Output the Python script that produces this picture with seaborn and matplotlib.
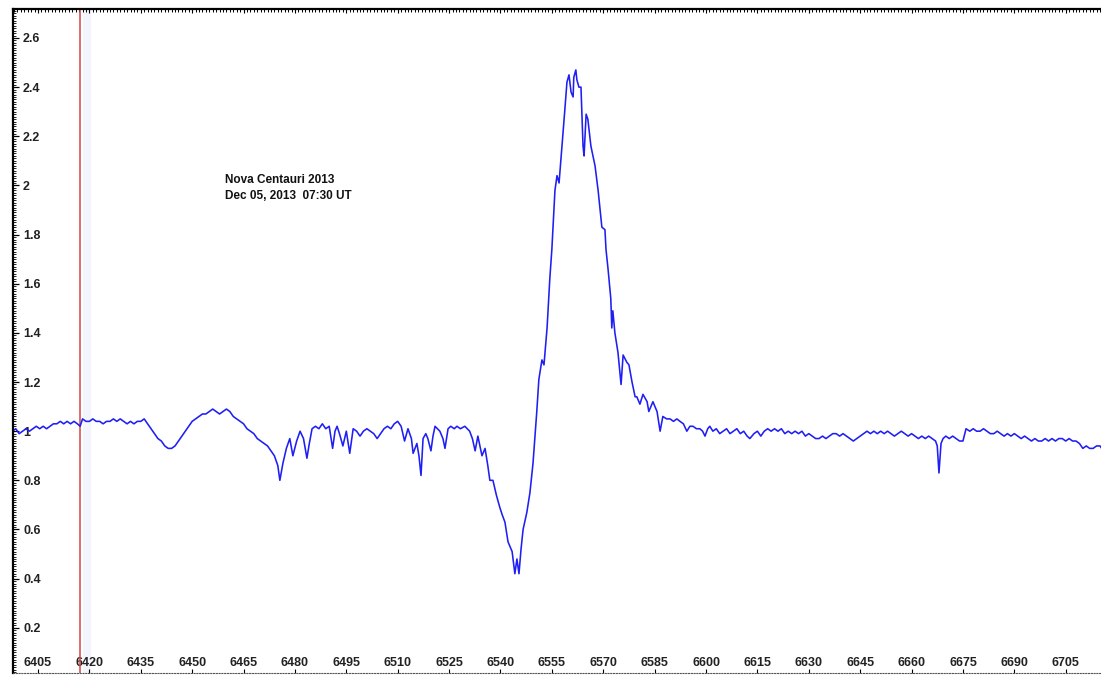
import numpy as np
import pandas as pd
import matplotlib
matplotlib.use("Agg")
import matplotlib.pyplot as plt
import seaborn as sns
from matplotlib.ticker import MultipleLocator, FuncFormatter

# Spectrum, in pieces (wavelength in Angstrom, relative flux)
wl_blue = [6397.5, 6398.5, 6399.5, 6400.5, 6401.5, 6402.5, 6403.5, 6404.5, 6405.5, 6406.5,
           6407.5, 6408.5, 6409.5, 6410.5, 6411.5, 6412.5, 6413.5, 6414.5, 6415.5, 6416.5,
           6417.3, 6418, 6419, 6420, 6421, 6422, 6423, 6424, 6425, 6426,
           6427, 6428, 6429, 6430, 6431, 6432, 6433, 6434, 6435, 6436,
           6437, 6438, 6439, 6440, 6441, 6442, 6443, 6444, 6445, 6446,
           6447, 6448, 6449, 6450, 6451, 6452, 6453, 6454, 6455, 6456,
           6457, 6458, 6459, 6460, 6461, 6462, 6463, 6464, 6465, 6466,
           6467, 6468, 6469, 6470, 6471, 6472, 6473, 6474, 6475, 6475.6]
flux_blue = [1.00, 1.01, 0.99, 1.00, 1.01, 1.00, 1.01, 1.02, 1.01, 1.02,
             1.01, 1.02, 1.03, 1.03, 1.04, 1.03, 1.04, 1.03, 1.04, 1.03,
             1.02, 1.05, 1.04, 1.04, 1.05, 1.04, 1.04, 1.03, 1.04, 1.04,
             1.05, 1.04, 1.05, 1.04, 1.03, 1.04, 1.03, 1.04, 1.04, 1.05,
             1.03, 1.01, 0.99, 0.97, 0.96, 0.94, 0.93, 0.93, 0.94, 0.96,
             0.98, 1.00, 1.02, 1.04, 1.05, 1.06, 1.07, 1.07, 1.08, 1.09,
             1.08, 1.07, 1.08, 1.09, 1.08, 1.06, 1.05, 1.04, 1.03, 1.01,
             1.00, 0.99, 0.97, 0.96, 0.95, 0.94, 0.92, 0.90, 0.86, 0.80]

wl_band = [6476.5, 6477.5, 6478.5, 6479.4, 6480.5, 6481.5, 6482.5, 6483.5, 6484.2, 6485,
           6486, 6487, 6488, 6489, 6490, 6491, 6491.7, 6492.3, 6493, 6494,
           6495, 6496, 6497, 6498, 6499, 6500, 6501, 6502, 6503, 6504,
           6505, 6506, 6507, 6508, 6509, 6510, 6511, 6512, 6513, 6514,
           6514.5, 6515.6, 6516.2, 6516.8, 6517.4, 6518.2, 6518.8, 6519.7, 6520.3, 6520.9,
           6521.6, 6522.3, 6523.2, 6523.8, 6524.7, 6525.5, 6526.5, 6527.3, 6528.3, 6529.6,
           6530.3, 6531, 6531.8, 6532.6, 6533.4, 6534, 6534.6, 6535.5, 6536.3, 6536.9]
flux_band = [0.87, 0.93, 0.97, 0.90, 0.96, 1.00, 0.97, 0.89, 0.95, 1.01,
             1.02, 1.01, 1.03, 1.01, 1.02, 0.93, 1.00, 1.02, 0.99, 0.94,
             1.00, 0.91, 1.01, 1.00, 0.98, 1.00, 1.01, 1.00, 0.99, 0.97,
             0.99, 1.01, 1.02, 1.01, 1.03, 1.04, 1.02, 0.96, 1.01, 0.97,
             0.91, 0.95, 0.90, 0.82, 0.97, 0.99, 0.97, 0.92, 0.98, 1.02,
             1.01, 1.00, 0.97, 0.93, 1.01, 1.02, 1.01, 1.02, 1.01, 1.02,
             1.01, 1.00, 0.97, 0.92, 0.98, 0.94, 0.90, 0.93, 0.86, 0.80]

wl_halpha = [6537.8, 6538.8, 6539.8, 6540.5, 6541.3, 6542.2, 6543.4, 6544.2, 6544.8, 6545.4,
             6546, 6546.6, 6547.7, 6548.6, 6549.5, 6550.6, 6551.2, 6552.1, 6552.7, 6553.6,
             6554.4, 6555, 6555.9, 6556.5, 6557.1, 6557.9, 6558.8, 6559.4, 6560, 6560.6,
             6561.2, 6561.4, 6562, 6562.3, 6562.9, 6563.5, 6564.1, 6564.4, 6565, 6565.5,
             6566.4, 6567.6, 6568.5, 6569.6, 6570.5, 6570.8, 6571.4, 6572.2, 6572.5, 6572.8,
             6573.4, 6574.3, 6575.2, 6575.8, 6576.9, 6577.5, 6578.4, 6579.3, 6579.8, 6580.7,
             6581.6, 6582.8, 6583.3, 6584.5, 6585.7, 6586.6, 6587.4, 6588.5, 6589.5, 6590.5,
             6591.5, 6592.4, 6593.4, 6594.4, 6595.3, 6596.2, 6597.2, 6598.2, 6599, 6599.7]
flux_halpha = [0.80, 0.74, 0.69, 0.66, 0.63, 0.55, 0.51, 0.42, 0.48, 0.42,
               0.52, 0.60, 0.67, 0.75, 0.87, 1.08, 1.21, 1.29, 1.27, 1.42,
               1.62, 1.74, 1.98, 2.04, 2.01, 2.15, 2.31, 2.42, 2.45, 2.38,
               2.36, 2.44, 2.47, 2.43, 2.40, 2.40, 2.16, 2.12, 2.29, 2.27,
               2.16, 2.08, 1.98, 1.83, 1.82, 1.74, 1.66, 1.54, 1.42, 1.49,
               1.40, 1.32, 1.19, 1.31, 1.28, 1.27, 1.20, 1.14, 1.14, 1.11,
               1.15, 1.12, 1.08, 1.12, 1.08, 1.00, 1.06, 1.05, 1.05, 1.04,
               1.05, 1.04, 1.03, 1.00, 1.02, 1.02, 1.01, 1.01, 1.00, 0.98]

wl_red = [6600.5, 6601.1, 6602, 6603, 6604, 6605, 6606, 6607, 6608, 6609,
          6610, 6611, 6612, 6612.8, 6614, 6615, 6616, 6617, 6618, 6619,
          6620, 6621, 6622, 6623, 6624, 6625, 6626, 6627, 6628, 6629,
          6630, 6631, 6632, 6633, 6634, 6635, 6636, 6637, 6638, 6639,
          6640, 6641, 6642, 6643, 6644, 6645, 6646, 6647, 6648, 6649,
          6650, 6651, 6652, 6653, 6654, 6655, 6656, 6657, 6658, 6659,
          6660, 6661, 6662, 6663, 6664, 6665, 6666, 6667, 6667.5, 6668,
          6668.6, 6669.2, 6670, 6671, 6672, 6673, 6674, 6675, 6675.9, 6677,
          6678, 6679, 6680, 6681, 6682, 6683, 6684, 6685, 6686, 6687,
          6688, 6689, 6690, 6691, 6692, 6693, 6694, 6695, 6696, 6697,
          6698, 6699, 6700, 6701, 6702, 6703, 6704, 6705, 6706, 6707,
          6708, 6709, 6710, 6711, 6712, 6713, 6714, 6715, 6715.5]
flux_red = [1.01, 1.02, 1.00, 1.01, 0.99, 1.00, 1.01, 0.99, 1.00, 1.01,
            0.99, 1.00, 0.98, 0.97, 0.99, 1.00, 0.98, 1.00, 1.01, 1.00,
            1.01, 1.00, 1.01, 0.99, 1.00, 0.99, 1.00, 0.99, 1.00, 0.98,
            0.99, 0.98, 0.97, 0.97, 0.98, 0.97, 0.98, 0.99, 0.99, 0.98,
            0.99, 0.98, 0.97, 0.96, 0.97, 0.98, 0.99, 1.00, 0.99, 1.00,
            0.99, 1.00, 0.99, 1.00, 0.99, 0.98, 0.99, 1.00, 0.99, 0.98,
            0.99, 0.98, 0.97, 0.98, 0.97, 0.98, 0.97, 0.96, 0.94, 0.83,
            0.95, 0.97, 0.98, 0.97, 0.98, 0.97, 0.96, 0.96, 1.01, 1.00,
            1.01, 1.00, 1.00, 1.01, 1.00, 0.99, 0.99, 1.00, 0.99, 0.98,
            0.99, 0.98, 0.99, 0.98, 0.97, 0.98, 0.97, 0.96, 0.97, 0.96,
            0.96, 0.97, 0.96, 0.97, 0.96, 0.97, 0.97, 0.96, 0.97, 0.96,
            0.96, 0.95, 0.93, 0.94, 0.93, 0.93, 0.94, 0.94, 0.93]

marker_wl = 6417.3
title_lines = "Nova Centauri 2013\nDec 05, 2013  07:30 UT"

spec = pd.DataFrame({
    "wavelength": wl_blue + wl_band + wl_halpha + wl_red,
    "flux": flux_blue + flux_band + flux_halpha + flux_red,
})

sns.set_style("white")
plt.rcParams["font.family"] = ["Liberation Sans", "DejaVu Sans"]
plt.rcParams["font.weight"] = "bold"

fig = plt.figure(figsize=(11.01, 6.75), dpi=100)
ax = fig.add_axes([13 / 1101, 2 / 675, 1088 / 1101, 664 / 675])

# faint highlight band next to the marker line
ax.axvspan(marker_wl + 0.8, marker_wl + 3.0, color="#f2f5fc", zorder=0)
ax.axvline(marker_wl, color="#d04848", linewidth=1.1, zorder=1)

sns.lineplot(data=spec, x="wavelength", y="flux", ax=ax, color="#1e1ef5",
             linewidth=1.15, estimator=None, sort=False, zorder=2)

ax.set_xlim(6397.7, 6715.3)
ax.set_ylim(0.016, 2.718)
ax.set_xlabel("")
ax.set_ylabel("")

ax.xaxis.set_major_locator(MultipleLocator(15))
ax.xaxis.set_minor_locator(MultipleLocator(1))
ax.yaxis.set_major_locator(MultipleLocator(0.2))
ax.yaxis.set_minor_locator(MultipleLocator(0.01))
ax.yaxis.set_major_formatter(FuncFormatter(lambda v, p: "%g" % round(v, 2)))
ax.xaxis.set_major_formatter(FuncFormatter(lambda v, p: "%d" % round(v)))

# spines: thick black left/top, dotted bottom, no right
ax.spines["left"].set_linewidth(1.6)
ax.spines["left"].set_color("black")
ax.spines["top"].set_linewidth(1.6)
ax.spines["top"].set_color("black")
ax.spines["bottom"].set_linestyle((0, (1, 1.5)))
ax.spines["bottom"].set_linewidth(0.8)
ax.spines["bottom"].set_color("#555555")
ax.spines["right"].set_visible(False)

ax.tick_params(axis="x", which="major", direction="in", top=True, bottom=True,
               length=3, width=0.8, color="black", labelsize=9, pad=-11.2,
               labelcolor="#222222")
ax.tick_params(axis="x", which="minor", direction="in", top=True, bottom=False,
               length=2.5, width=0.7, color="black")
ax.tick_params(axis="y", which="major", direction="in", left=True, right=False,
               length=4.5, width=0.9, color="black", labelsize=9, pad=-7.2,
               labelcolor="#222222")
ax.tick_params(axis="y", which="minor", direction="in", left=True, right=False,
               length=2.2, width=0.6, color="black")

ax.text(6459.6, 2.045, title_lines, fontsize=8.5, fontweight="bold",
        va="top", ha="left", linespacing=1.35, color="#111111")

fig.canvas.draw()
plt.setp(ax.get_yticklabels(), ha="left", fontweight="bold")
plt.setp(ax.get_xticklabels(), fontweight="bold")

fig.savefig("out.png", dpi=100)
